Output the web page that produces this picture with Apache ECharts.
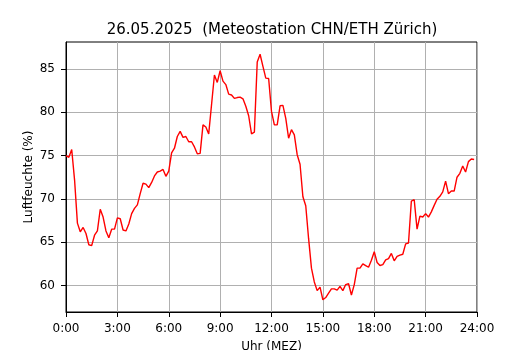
<!DOCTYPE html>
<html>
<head>
<meta charset="utf-8">
<script src="https://cdn.jsdelivr.net/npm/echarts@6/dist/echarts.min.js"></script>
<style>
html,body{margin:0;padding:0;background:#fff;}
#chart{width:530px;height:350px;}
</style>
</head>
<body>
<div id="chart"></div>
<script>
// Relative humidity (%) every 10 minutes, 00:00 .. 23:50
const humidity = [
  75.0, 74.8, 75.7, 72.2, 67.2, 66.2,   // 0:xx
  66.7, 66.0, 64.7, 64.6, 65.8, 66.3,   // 1:xx
  68.8, 67.9, 66.3, 65.5, 66.5, 66.5,   // 2:xx
  67.8, 67.7, 66.4, 66.3, 67.1, 68.3,   // 3:xx
  68.9, 69.3, 70.6, 71.8, 71.7, 71.3,   // 4:xx
  71.9, 72.65, 73.1, 73.2, 73.4, 72.6,  // 5:xx
  73.2, 75.3, 75.85, 77.2, 77.8, 77.1,  // 6:xx
  77.2, 76.6, 76.6, 76.0, 75.2, 75.25,  // 7:xx
  78.55, 78.3, 77.5, 80.9, 84.3, 83.45, // 8:xx
  84.8, 83.6, 83.2, 82.1, 82.0, 81.6,   // 9:xx
  81.7, 81.75, 81.55, 80.7, 79.6, 77.5, // 10:xx
  77.7, 85.8, 86.7, 85.3, 83.95, 83.9,  // 11:xx
  80.1, 78.55, 78.55, 80.75, 80.8, 79.3,// 12:xx
  77.0, 78.0, 77.4, 75.1, 74.0, 70.25,  // 13:xx
  69.2, 65.4, 62.0, 60.4, 59.4, 59.8,   // 14:xx
  58.35, 58.6, 59.1, 59.6, 59.6, 59.45, // 15:xx
  59.9, 59.4, 60.1, 60.2, 58.9, 60.1,   // 16:xx
  62.0, 62.0, 62.5, 62.3, 62.1, 62.9,   // 17:xx
  63.9, 62.65, 62.3, 62.4, 62.95, 63.1, // 18:xx
  63.7, 62.85, 63.35, 63.5, 63.6, 64.8, // 19:xx
  64.9, 69.75, 69.9, 66.5, 68.0, 67.9,  // 20:xx
  68.3, 67.9, 68.5, 69.25, 69.95, 70.3, // 21:xx
  70.8, 72.05, 70.6, 70.9, 70.9, 72.5,  // 22:xx
  72.95, 73.8, 73.1, 74.3, 74.6, 74.55  // 23:xx
];
const stepMinutes = 10;
const xTicks = [0, 3, 6, 9, 12, 15, 18, 21, 24];
const yTicks = [60, 65, 70, 75, 80, 85];
const titleText = '26.05.2025  (Meteostation CHN/ETH Zürich)';
const xName = 'Uhr (MEZ)';
const yName = 'Luftfeuchte (%)';

const times = humidity.map((_, i) => i * stepMinutes / 60);
const points = humidity.map((v, i) => [times[i], v]);

const dMin = Math.min(...humidity), dMax = Math.max(...humidity);
const pad = (dMax - dMin) * 0.05;
const yMin = dMin - pad, yMax = dMax + pad;

const FONT = 'DejaVu Sans';
const chart = echarts.init(document.getElementById('chart'), null, {renderer: 'canvas'});
chart.setOption({
  animation: false,
  backgroundColor: '#fff',
  title: {
    text: titleText,
    left: 267, top: 18, textAlign: 'center',
    textStyle: {fontFamily: FONT, fontSize: 15, fontWeight: 'normal', color: '#000'}
  },
  grid: {left: 66, right: 53, top: 42, bottom: 38, show: true, borderColor: '#000', borderWidth: 1,
         backgroundColor: 'transparent', containLabel: false, outerBoundsMode: 'none'},
  xAxis: {
    type: 'value', min: 0, max: 24, interval: 3,
    name: xName, nameLocation: 'middle', nameGap: 29, nameMoveOverlap: false,
    nameTextStyle: {fontFamily: FONT, fontSize: 12, color: '#000'},
    axisLine: {show: true, lineStyle: {color: '#000', width: 1}},
    axisTick: {show: true, length: 5, lineStyle: {color: '#000'}},
    axisLabel: {fontFamily: FONT, fontSize: 12, color: '#000', margin: 11,
      formatter: v => v + ':00'},
    splitLine: {show: true, lineStyle: {color: '#b0b0b0', width: 1}}
  },
  yAxis: {
    type: 'value', min: yMin, max: yMax,
    name: yName, nameLocation: 'middle', nameGap: 31, nameMoveOverlap: false,
    nameTextStyle: {fontFamily: FONT, fontSize: 12, color: '#000'},
    axisLine: {show: true, lineStyle: {color: '#000', width: 1}},
    axisTick: {show: true, length: 5, lineStyle: {color: '#000'}, customValues: yTicks},
    axisLabel: {fontFamily: FONT, fontSize: 12, color: '#000', margin: 11, customValues: yTicks},
    splitLine: {show: true, lineStyle: {color: '#b0b0b0', width: 1}}
  },
  series: [{
    type: 'line', data: points, showSymbol: false, symbol: 'none',
    lineStyle: {color: '#ff0000', width: 1.4}, itemStyle: {color: '#ff0000'}
  }]
});
</script>
</body>
</html>
